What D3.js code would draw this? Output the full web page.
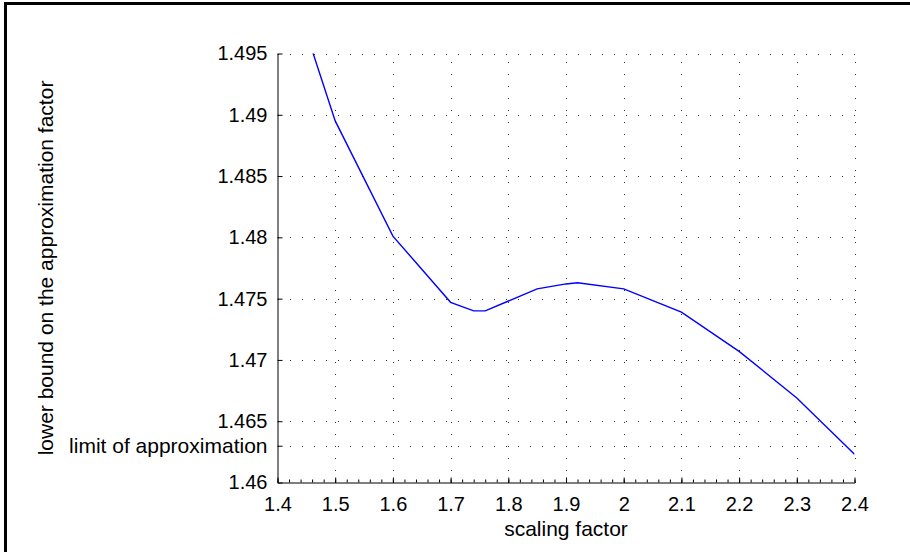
<!DOCTYPE html>
<html>
<head>
<meta charset="utf-8">
<script src="https://cdn.jsdelivr.net/npm/d3@7"></script>
<style>
  body { margin: 0; background: #fff; }
  svg { display: block; }
</style>
</head>
<body>
<div id="chart"></div>
<script>
// Data
var scaling = [1.45, 1.5, 1.6, 1.7, 1.74, 1.76, 1.85, 1.9, 1.92, 2.0, 2.1, 2.2, 2.3, 2.4]
var lowerBound = [1.4967, 1.4895, 1.4801, 1.4747, 1.4740, 1.4740, 1.4758, 1.4762, 1.4763, 1.4758, 1.4739, 1.4707, 1.4669, 1.4623]
var xTicks = [1.4, 1.5, 1.6, 1.7, 1.8, 1.9, 2.0, 2.1, 2.2, 2.3, 2.4]
var yTicks = [1.46, 1.463, 1.465, 1.47, 1.475, 1.48, 1.485, 1.49, 1.495]
var yTickLabels = ['1.46', 'limit of approximation', '1.465', '1.47', '1.475', '1.48', '1.485', '1.49', '1.495']

var width = 910
var height = 552
var font = '"Liberation Sans", Arial, Helvetica, sans-serif'
var numSize = 20 // digits
var textSize = 21 // words

var svg = d3.select('#chart').append('svg')
  .attr('width', width)
  .attr('height', height)

// figure frame (only top and left visible)
svg.append('path')
  .attr('d', 'M5.5,' + height + 'V3.5H' + width)
  .attr('fill', 'none')
  .attr('stroke', '#000')
  .attr('stroke-width', 3)

var x = d3.scaleLinear().domain([1.4, 2.4]).range([277.5, 854.5])
var y = d3.scaleLinear().domain([1.46, 1.495]).range([482.5, 53.5])

// grid
var grid = svg.append('g')
  .attr('stroke', '#333')
  .attr('stroke-width', 1)
  .attr('stroke-dasharray', '1,11')
  .attr('shape-rendering', 'crispEdges')

grid.selectAll('line.v').data(xTicks.slice(1)).join('line')
  .attr('class', 'v')
  .attr('x1', function(d){ return Math.round(x(d)) + 0.5 })
  .attr('x2', function(d){ return Math.round(x(d)) + 0.5 })
  .attr('y1', y.range()[0])
  .attr('y2', y.range()[1])

grid.selectAll('line.h').data(yTicks.slice(1)).join('line')
  .attr('class', 'h')
  .attr('x1', x.range()[0])
  .attr('x2', x.range()[1])
  .attr('y1', function(d){ return Math.round(y(d)) + 0.5 })
  .attr('y2', function(d){ return Math.round(y(d)) + 0.5 })

// curve
svg.append('clipPath').attr('id', 'plot-clip')
  .append('rect')
  .attr('x', x.range()[0])
  .attr('y', y.range()[1])
  .attr('width', x.range()[1] - x.range()[0])
  .attr('height', y.range()[0] - y.range()[1])

var line = d3.line()
  .x(function(d){ return x(d[0]) })
  .y(function(d){ return y(d[1]) })

svg.append('path')
  .datum(d3.zip(scaling, lowerBound))
  .attr('clip-path', 'url(#plot-clip)')
  .attr('d', line)
  .attr('fill', 'none')
  .attr('stroke', '#0000ff')
  .attr('stroke-width', 1.4)

// minor x ticks
var minorX = d3.range(1.4, 2.4001, 0.02)
svg.append('g')
  .attr('transform', 'translate(0,' + y.range()[0] + ')')
  .call(d3.axisBottom(x).tickValues(minorX).tickSizeInner(-3).tickSizeOuter(0).tickFormat(''))
  .call(function(g){ g.select('.domain').remove() })

// x axis
svg.append('g')
  .attr('transform', 'translate(0,' + y.range()[0] + ')')
  .call(d3.axisBottom(x).tickValues(xTicks).tickSizeInner(-5).tickSizeOuter(0).tickPadding(14)
    .tickFormat(d3.format('')))

// y axis
svg.append('g')
  .attr('transform', 'translate(' + x.range()[0] + ',0)')
  .call(d3.axisLeft(y).tickValues(yTicks).tickSizeInner(-5).tickSizeOuter(0).tickPadding(10)
    .tickFormat(function(d, i){ return yTickLabels[i] }))

svg.selectAll('.tick text')
  .attr('font-family', font)
  .attr('font-size', function(){ return /^[0-9.]+$/.test(this.textContent) ? numSize : textSize })
  .attr('fill', '#000')

// axis titles
svg.append('text')
  .attr('x', (x.range()[0] + x.range()[1]) / 2)
  .attr('y', 536)
  .attr('text-anchor', 'middle')
  .attr('font-family', font)
  .attr('font-size', textSize)
  .text('scaling factor')

svg.append('text')
  .attr('transform', 'translate(53,' + (y.range()[0] + y.range()[1]) / 2 + ') rotate(-90)')
  .attr('text-anchor', 'middle')
  .attr('font-family', font)
  .attr('font-size', textSize)
  .text('lower bound on the approximation factor')
</script>
</body>
</html>
